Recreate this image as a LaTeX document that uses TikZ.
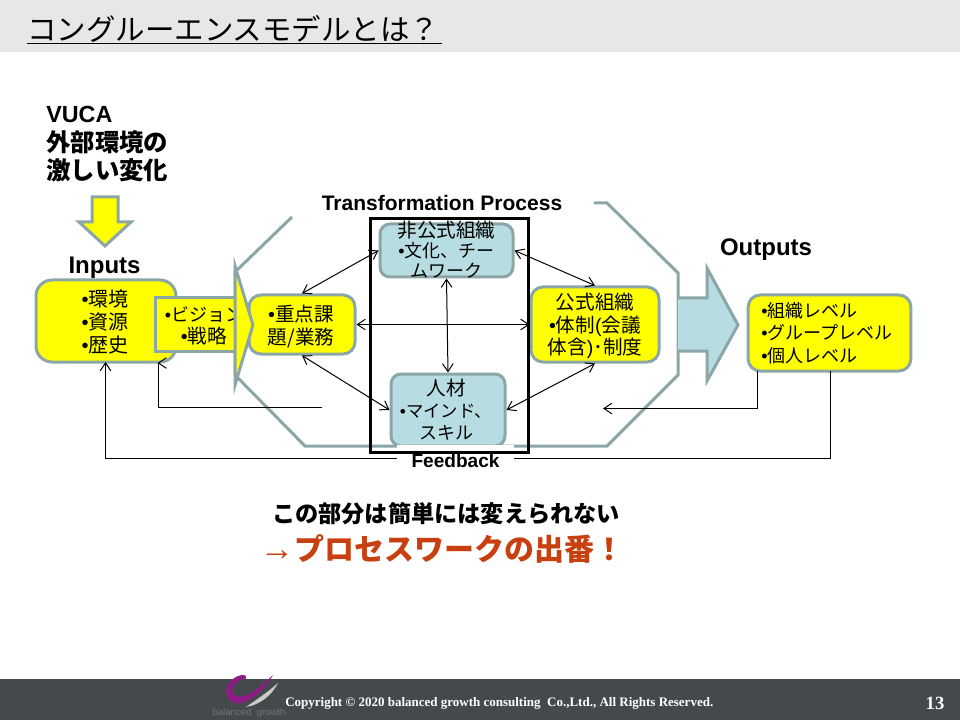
\documentclass[tikz,border=0pt]{standalone}
\usepackage{fontspec}
\setmainfont{Noto Sans CJK JP}
\newfontfamily\latinfont{Liberation Sans}
\newfontfamily\footfont{Liberation Serif}
\usepackage{xcolor}
\usetikzlibrary{arrows.meta, positioning}
\definecolor{mLine}  {HTML}{8CA6A8}
\definecolor{mTeal}  {HTML}{B7DDE3}
\definecolor{mYellow}{HTML}{FFFF00}
\definecolor{mBand}  {HTML}{E7E7E7}
\definecolor{mFoot}  {HTML}{44494C}
\definecolor{mAccent}{HTML}{C8400F}
\definecolor{mLogo}  {HTML}{8E1C86}
\newcommand{\bu}{{\latinfont •}}
\newcommand{\kanjisize}{\fontsize{14.7}{17}\selectfont}
\tikzset{
  yellowbox/.style={draw=mLine, line width=2.25pt, rounded corners=9pt, fill=mYellow, inner sep=0pt},
  tealbox/.style={draw=mLine, line width=2.25pt, rounded corners=7.5pt, fill=mTeal, inner sep=0pt},
  boxtext/.style={font=\fontsize{13.5}{15}\selectfont, align=center, inner sep=0pt},
  headline/.style={font=\latinfont\bfseries\fontsize{18}{20}\selectfont, inner sep=0pt},
  link/.style={black, line width=0.75pt, {Straight Barb[length=6pt,width=8pt]}-{Straight Barb[length=6pt,width=8pt]}},
  backlink/.style={black, line width=0.75pt, -{Straight Barb[length=6pt,width=8pt]}}
}

\begin{document}
\begin{tikzpicture}[x=0.75pt, y=-0.75pt]
    \useasboundingbox (0,0) rectangle (960,720);

    % bands
    \fill[mBand] (0,0) rectangle (960,52.5);
    \fill[mFoot] (0,679) rectangle (960,720);
    \node[font=\fontsize{22.1}{24}\selectfont, inner sep=0pt, anchor=west] (title) at (27,29)
      {コングルーエンスモデルとは？};
    \draw[black, line width=1.2pt] (27,43.5) -- (441.5,43.5);

    % left column
    \node[font=\bfseries\fontsize{18.3}{21.4}\selectfont, align=left, anchor=north west, inner sep=0pt] (vuca) at (46,106)
      {{\latinfont\fontsize{17.5}{21.4}\selectfont VUCA}\\外部環境の\\激しい変化};
    \draw[draw=mLine, fill=mYellow, line width=2.25pt, line join=miter]
      (92,197) -- (118,197) -- (118,222) -- (131,222) -- (105,246) -- (79,222) -- (92,222) -- cycle;
    \node[headline] (inlabel) at (104.5,268) {Inputs};
    \node[headline] (outlabel) at (766,250) {Outputs};

    % main boxes
    \node[yellowbox, rounded corners=12pt, minimum width=105pt, minimum height=61.5pt] (inputs) at (106,321) {};
    \node[boxtext, font=\fontsize{15}{17}\selectfont] (inputstext) at (105,322) {\bu 環境\\\bu 資源\\\bu 歴史};
    \node[yellowbox, minimum width=122pt, minimum height=57pt, align=left] (output) at (829.5,333) {};
    \node[boxtext, align=left, font=\fontsize{13.5}{17}\selectfont, anchor=west] (outputtext) at (761,333)
      {\bu 組織レベル\\\bu グループレベル\\\bu 個人レベル};

    % long feedback line goes under everything
    \coordinate (fblong) at (830.5,371);
    \draw[backlink] (fblong) |- (105.5,458.5) -- (105.5,362);

    % octagon
    \draw[mLine, line width=2.25pt, line join=miter]
      (292,217) -- (235,272) -- (235,375) -- (305,446) -- (607,446)
      -- (678,375) -- (678,273) -- (607,203) -- (594,203);

    % big arrow on the right
    \draw[draw=mLine, fill=mTeal, line width=2.25pt, line join=miter]
      (678,298) -- (707,298) -- (707,268) -- (738,325) -- (707,381) -- (707,351) -- (678,351);

    % vision arrow, the head covers the end of the text
    \node[draw=mLine, fill=mYellow, line width=2.25pt, minimum width=60pt, minimum height=39.75pt, inner sep=0pt] (vision) at (195,324.5) {};
    \node[boxtext, font=\fontsize{13.5}{16.5}\selectfont] (visiontext) at (204,326) {\bu ビジョン\\{\kanjisize\bu 戦略}};
    \node[yellowbox, minimum width=79.5pt, minimum height=44.25pt] (issue) at (302,324.5) {};
    \node[boxtext, font=\kanjisize] (issuetext) at (301,326.5) {\bu 重点課\\題/業務};
    \draw[draw=mLine, fill=mYellow, line width=2.25pt, line join=miter]
      (235,266) -- (253,325) -- (235,385) -- cycle;

    \node[tealbox, minimum width=99.75pt, minimum height=39.75pt] (informal) at (446.5,250.5) {};
    \node[boxtext] (informaltext) at (446.5,250) {{\kanjisize 非公式組織}\\\bu 文化、チー\\ムワーク};
    \node[tealbox, minimum width=85.5pt, minimum height=54pt] (talent) at (448,410) {};
    \node[boxtext, font=\fontsize{13.5}{16.5}\selectfont] (talenttext) at (446,410) {{\kanjisize 人材}\\{\fontsize{13}{16.5}\selectfont\bu マインド、}\\スキル};
    \node[yellowbox, minimum width=96pt, minimum height=56.25pt] (formal) at (595,324.5) {};
    \node[boxtext, font=\kanjisize] (formaltext) at (595,326) {公式組織\\\bu 体制{\latinfont (}会議\\体含{\latinfont )}･制度};

    % links
    \draw[link] (issue.north) -- (informal.west);
    \draw[link] (issue.east) -- (formal.west);
    \draw[link] (issue.south) -- (talent.west);
    \draw[link] (informal.south) -- (talent.north);
    \draw[link] (informal.east) -- (formal.north);
    \draw[link] (formal.south) -- (talent.east);

    % short feedback lines
    \coordinate (fbout) at (757.5,371);
    \coordinate (fboutend) at (603,408.5);
    \coordinate (fbin) at (322,407.5);
    \coordinate (fbinend) at (158.5,363);
    \draw[backlink] (fbout) |- (fboutend);
    \draw[backlink] (fbin) -| (fbinend) -- ++(-1,0);

    % feedback label cuts the lines, frame on top of it
    \node[fill=white, minimum width=88pt, minimum height=23pt, inner sep=0pt, font=\latinfont\bfseries\fontsize{14.3}{16}\selectfont] (feedback) at (455.5,460.5) {Feedback};
    \node[draw=black, line width=2.25pt, minimum width=119pt, minimum height=174.75pt, inner sep=0pt] (frame) at (449.5,335.5) {};
    \node[font=\latinfont\bfseries\fontsize{15.75}{18}\selectfont, inner sep=0pt] (process) at (442,203) {Transformation Process};

    % message
    \node[font=\bfseries\fontsize{17.4}{20}\selectfont, inner sep=0pt] (message) at (446,514) {この部分は簡単には変えられない};
    \node[font=\bfseries\fontsize{22.5}{25}\selectfont, text=mAccent, inner sep=0pt] (message2) at (442,549) {{\latinfont\mdseries\fontsize{26}{25}\selectfont →}プロセスワークの出番！};

    % logo
    \fill[black!20] (278,683) .. controls (272,695) and (260,705) .. (246,707)
      .. controls (256,700) and (268,692) .. (278,683) -- cycle;
    \fill[mLogo] (273,675) .. controls (268,684) and (256,699) .. (242,703)
      .. controls (232,705) and (226,698) .. (226,691) .. controls (227,682) and (236,675) .. (243,675)
      .. controls (246,675) and (247,677) .. (246,679) .. controls (242,677) and (233,684) .. (232,690)
      .. controls (232,696) and (240,698) .. (247,695) .. controls (256,691) and (266,682) .. (273,675) -- cycle;
    \node[font=\latinfont\fontsize{7.2}{8}\selectfont, text=black!55, inner sep=0pt] (logotext) at (249,713) {balanced\ \ growth};

    % footer text
    \node[font=\footfont\bfseries\fontsize{9.75}{10}\selectfont, text=white, inner sep=0pt, anchor=west] (copyright) at (285,703)
      {Copyright © 2020 balanced growth consulting\ \ Co.,Ltd., All Rights Reserved.};
    \node[font=\footfont\bfseries\fontsize{14}{14}\selectfont, text=white, inner sep=0pt] (pagenum) at (935,703) {13};
\end{tikzpicture}
\end{document}
